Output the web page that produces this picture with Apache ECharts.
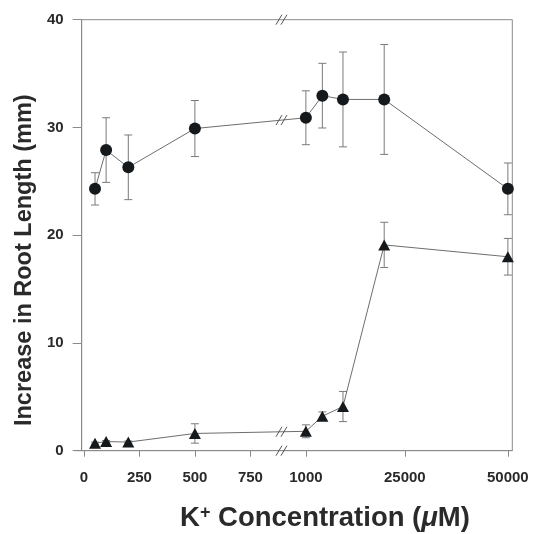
<!DOCTYPE html>
<html>
<head>
<meta charset="utf-8">
<script src="https://cdn.jsdelivr.net/npm/echarts@6/dist/echarts.min.js"></script>
<style>html,body{margin:0;padding:0;background:#fff;}#c{width:541px;height:534px;}</style>
</head>
<body>
<div id="c"></div>
<script>
// ---- data ----
const concentrations = [50, 100, 200, 500, 1000, 5000, 10000, 20000, 50000];
const circleMeans    = [24.3, 27.9, 26.3, 29.9, 30.9, 32.95, 32.6, 32.6, 24.3];
const circleErr      = [1.5, 3.0, 3.0, 2.6, 2.5, 3.0, 4.4, 5.1, 2.4];
const triangleMeans  = [0.7, 0.85, 0.8, 1.6, 1.8, 3.2, 4.1, 19.1, 18.0];
const triangleErr    = [0.1, 0.1, 0.1, 0.9, 0.6, 0.4, 1.4, 2.1, 1.7];
const xTickLabels    = [0, 250, 500, 750, 1000, 25000, 50000];
const yTicks         = [0, 10, 20, 30, 40];
const breakAt        = 890;   // axis position of the break (between 750 and 1000)

// broken axis: linear 0..1000, then compressed 1000..50000
const RIGHT_K = 910 / 49000;
function pos(c) { return c <= 1000 ? c : 1000 + (c - 1000) * RIGHT_K; }

const xTickPos = xTickLabels.map(pos);
const circlePts = concentrations.map((c, i) => [pos(c), circleMeans[i]]);
const trianglePts = concentrations.map((c, i) => [pos(c), triangleMeans[i]]);
const circleBars = concentrations.map((c, i) => [pos(c), circleMeans[i] - circleErr[i], circleMeans[i] + circleErr[i]]);
const triangleBars = concentrations.map((c, i) => [pos(c), triangleMeans[i] - triangleErr[i], triangleMeans[i] + triangleErr[i]]);

const FONT = '"Liberation Sans", Arial, sans-serif';
const LINE = '#6e6e6e';
const MARK = '#15191c';
const AXIS = '#8a8a8a';

function errRender(params, api) {
  const x = api.value(0);
  const lo = api.coord([x, api.value(1)]);
  const hi = api.coord([x, api.value(2)]);
  const w = 4;
  const st = { stroke: '#7a7a7a', lineWidth: 1 };
  return {
    type: 'group',
    children: [
      { type: 'line', shape: { x1: lo[0], y1: lo[1], x2: hi[0], y2: hi[1] }, style: st },
      { type: 'line', shape: { x1: lo[0] - w, y1: lo[1], x2: lo[0] + w, y2: lo[1] }, style: st },
      { type: 'line', shape: { x1: hi[0] - w, y1: hi[1], x2: hi[0] + w, y2: hi[1] }, style: st }
    ]
  };
}

const chart = echarts.init(document.getElementById('c'), null, { renderer: 'canvas' });
chart.setOption({
  animation: false,
  backgroundColor: '#fff',
  grid: { left: 81.7, right: 28.7, top: 19.7, bottom: 83.3, outerBoundsMode: 'none', containLabel: false,
          show: true, borderColor: AXIS, borderWidth: 1 },
  xAxis: {
    type: 'value', min: -10, max: 1930,
    axisLine: { show: true, onZero: false, lineStyle: { color: AXIS, width: 1 } },
    axisTick: { show: true, inside: false, length: 6, customValues: xTickPos, lineStyle: { color: AXIS } },
    axisLabel: {
      customValues: xTickPos, margin: 20, color: '#2a2a2a', fontFamily: FONT, fontWeight: 'bold', fontSize: 15,
      formatter: function (v) {
        let best = 0;
        for (let i = 0; i < xTickPos.length; i++) if (Math.abs(xTickPos[i] - v) < Math.abs(xTickPos[best] - v)) best = i;
        return String(xTickLabels[best]);
      }
    },
    splitLine: { show: false },
    name: '{a|K}{s|+}{a| Concentration (}{i|μ}{a|M)}',
    nameLocation: 'middle', nameGap: 53,
    nameTextStyle: {
      padding: [0, 0, 0, 56],
      rich: {
        a: { fontFamily: FONT, fontWeight: 'bold', fontSize: 27.5, color: '#2a2a2a' },
        s: { fontFamily: FONT, fontWeight: 'bold', fontSize: 18, color: '#2a2a2a', verticalAlign: 'top', padding: [0, 0, 11, 0] },
        i: { fontFamily: FONT, fontWeight: 'bold', fontStyle: 'italic', fontSize: 27.5, color: '#2a2a2a' }
      }
    }
  },
  yAxis: {
    type: 'value', min: 0, max: 40, interval: 10,
    axisLine: { show: true, onZero: false, lineStyle: { color: AXIS, width: 1 } },
    axisTick: { show: true, inside: false, length: 9, lineStyle: { color: AXIS } },
    axisLabel: { margin: 18, color: '#2a2a2a', fontFamily: FONT, fontWeight: 'bold', fontSize: 15,
      formatter: function (v) { return yTicks.indexOf(v) >= 0 ? String(v) : ''; } },
    splitLine: { show: false },
    name: 'Increase in Root Length (mm)',
    nameLocation: 'middle', nameGap: 45, nameRotate: 90,
    nameTextStyle: { fontFamily: FONT, fontWeight: 'bold', fontSize: 23.5, color: '#2a2a2a', padding: [0, 50, 0, 0] }
  },
  series: [
    { type: 'line', data: circlePts, symbol: 'circle', symbolSize: 12,
      lineStyle: { color: LINE, width: 1 }, itemStyle: { color: MARK, borderWidth: 0 }, z: 3 },
    { type: 'line', data: trianglePts, symbol: 'triangle', symbolSize: [12, 11],
      lineStyle: { color: LINE, width: 1 }, itemStyle: { color: MARK, borderWidth: 0 }, z: 3 },
    { type: 'custom', data: circleBars, renderItem: errRender, z: 2, encode: { x: 0, y: [1, 2] } },
    { type: 'custom', data: triangleBars, renderItem: errRender, z: 2, encode: { x: 0, y: [1, 2] } }
  ]
});

// break marks "//" on the frame, axis and both data lines
function interpAt(pts, p) {
  for (let i = 0; i < pts.length - 1; i++) {
    if (pts[i][0] <= p && pts[i + 1][0] >= p) {
      const t = (p - pts[i][0]) / (pts[i + 1][0] - pts[i][0]);
      return pts[i][1] + t * (pts[i + 1][1] - pts[i][1]);
    }
  }
  return 0;
}
function slashes(px, py) {
  const st = { stroke: '#555', lineWidth: 1 };
  const out = [];
  [-2.5, 2.5].forEach(function (o) {
    out.push({ type: 'line', shape: { x1: px + o - 3, y1: py + 5, x2: px + o + 3, y2: py - 5 }, style: st, z: 10 });
  });
  return out;
}
const marks = [];
[40, 0, interpAt(circlePts, breakAt), interpAt(trianglePts, breakAt)].forEach(function (yv) {
  const p = chart.convertToPixel({ gridIndex: 0 }, [breakAt, yv]);
  marks.push.apply(marks, slashes(p[0], p[1]));
});
// x axis line extends a little to the left of the y axis, as in the original
const a0 = chart.convertToPixel({ gridIndex: 0 }, [-10, 0]);
marks.push({ type: 'line', shape: { x1: a0[0] - 7, y1: a0[1], x2: a0[0], y2: a0[1] }, style: { stroke: AXIS, lineWidth: 1 } });
chart.setOption({ graphic: marks });
</script>
</body>
</html>
